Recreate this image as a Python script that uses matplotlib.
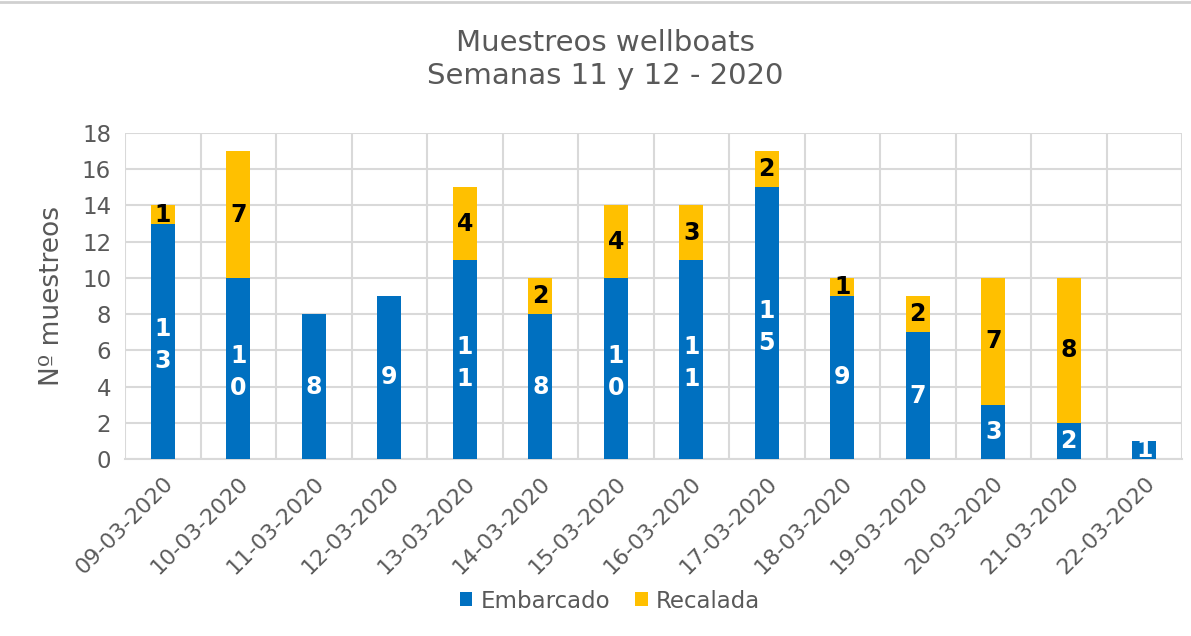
import matplotlib
matplotlib.use("Agg")
import matplotlib.pyplot as plt
import numpy as np

fechas = ["09-03-2020", "10-03-2020", "11-03-2020", "12-03-2020", "13-03-2020",
          "14-03-2020", "15-03-2020", "16-03-2020", "17-03-2020", "18-03-2020",
          "19-03-2020", "20-03-2020", "21-03-2020", "22-03-2020"]
embarcado = [13, 10, 8, 9, 11, 8, 10, 11, 15, 9, 7, 3, 2, 1]
recalada = [1, 7, 0, 0, 4, 2, 4, 3, 2, 1, 2, 7, 8, 0]
yticks = [0, 2, 4, 6, 8, 10, 12, 14, 16, 18]

BLUE = "#0070C0"
GOLD = "#FFC000"
GREY = "#595959"
GRID = "#D9D9D9"

plt.rcParams['font.family'] = ['DejaVu Sans']

fig = plt.figure(figsize=(11.91, 6.36), dpi=100)
ax = fig.add_axes([125 / 1191, 1 - 459 / 636, 1057 / 1191, 326 / 636])

x = np.arange(len(fechas))
w = 0.32
b1 = ax.bar(x, embarcado, w, color=BLUE, label="Embarcado", zorder=3)
b2 = ax.bar(x, recalada, w, bottom=embarcado, color=GOLD, label="Recalada", zorder=3)

for xi, e, r in zip(x, embarcado, recalada):
    if e > 0:
        s = str(e)
        if len(s) == 1:
            ax.text(xi, e / 2, s, ha="center", va="center", color="white",
                    fontsize=17, fontweight="bold", zorder=4)
        else:
            for k, d in enumerate(s):
                off = 11.5 - 23 * k - 2.5
                ax.annotate(d, (xi, e / 2), xytext=(0, off), textcoords="offset points",
                            ha="center", va="center", color="white",
                            fontsize=17, fontweight="bold", zorder=4)
    if r > 0:
        ax.text(xi, e + r / 2, str(r), ha="center", va="center", color="black",
                fontsize=17, fontweight="bold", zorder=4)

ax.set_xlim(-0.5, len(fechas) - 0.5)
ax.set_ylim(0, 18)
ax.set_yticks(yticks)
ax.set_xticks(x)
ax.set_xticklabels(fechas, rotation=45, ha="right", rotation_mode="anchor")
ax.set_xticks(np.arange(-0.5, len(fechas), 1), minor=True)
ax.grid(True, which="minor", axis="x", color=GRID, lw=1.5, zorder=0)
ax.grid(True, which="major", axis="y", color=GRID, lw=1.5, zorder=0)
ax.tick_params(axis="both", which="both", length=0, colors=GREY)
ax.tick_params(axis="y", labelsize=16.5, pad=10)
ax.tick_params(axis="x", labelsize=15.8, pad=10)
for s in ["top", "right", "left"]:
    ax.spines[s].set_visible(False)
ax.spines["bottom"].set_color(GRID)
ax.spines["bottom"].set_linewidth(1.5)

ax.set_ylabel("Nº muestreos", fontsize=19, color=GREY, labelpad=12)

fig.text(605 / 1191, 1 - 59.5 / 636, "Muestreos wellboats\nSemanas 11 y 12 - 2020", ha="center",
         va="center", fontsize=21, color=GREY, linespacing=1.25)

leg = fig.legend(handles=[b1, b2], loc="center", bbox_to_anchor=(610 / 1191, 1 - 601 / 636),
                 ncol=2, frameon=False, fontsize=16.5, handlelength=0.55,
                 handleheight=0.55, handletextpad=0.35, columnspacing=1.1)
for t in leg.get_texts():
    t.set_color(GREY)

fig.add_artist(plt.Line2D([0, 1], [0.997, 0.997], color="#D0D0D0", lw=2))

fig.savefig("out.png", dpi=100, facecolor="white")
